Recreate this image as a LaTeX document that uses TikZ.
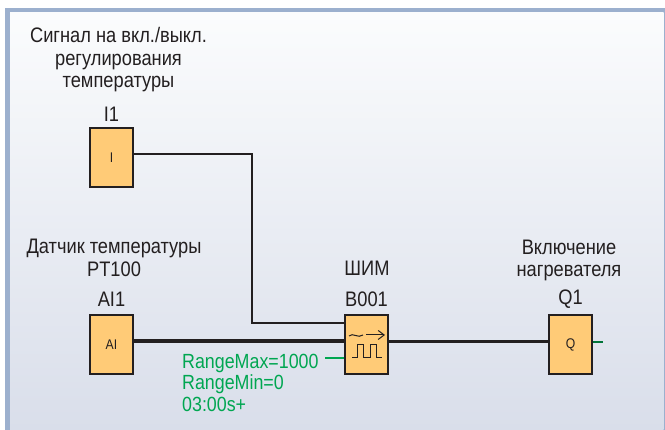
\documentclass[tikz,border=0pt]{standalone}
\usepackage{fontspec}
\setmainfont[FakeStretch=0.87]{Liberation Sans}
\usetikzlibrary{positioning, arrows.meta, calc}
\definecolor{panelline}{HTML}{9CB0CE}
\definecolor{paneltop}{HTML}{FBFCFD}
\definecolor{panelbot}{HTML}{D9DEEA}
\definecolor{blockfill}{HTML}{FFCB77}
\definecolor{inkline}{HTML}{231F20}
\definecolor{paramgreen}{HTML}{00A651}

\begin{document}
\begin{tikzpicture}[
    x=1pt, y=-1pt,
    font=\fontsize{21}{22.5}\selectfont,
    % logic blocks
    logicblock/.style={
        draw=inkline, fill=blockfill, line width=2pt,
        minimum width=43.5pt, minimum height=59.5pt, inner sep=0pt,
        font=\fontsize{14}{16}\selectfont, text=inkline
    },
    caption/.style={align=center, text=inkline, inner sep=0pt},
    signal/.style={draw=inkline, line width=2.2pt},
    paramtext/.style={align=left, text=paramgreen, inner sep=0pt},
    symbolline/.style={draw=inkline, line width=1pt}
]
    \useasboundingbox (0,0) rectangle (665,430);

    % --- panel ---
    \fill [white] (0,0) rectangle (665,430);
    \fill [panelline] (5,8) rectangle (665,430);
    \shade [top color=paneltop, bottom color=panelbot] (10,13) rectangle (663.5,430);

    % --- blocks ---
    \node [logicblock] (I1) at (111.5,157.75) {I};
    \node [logicblock] (AI1) at (111.5,344.5) {AI};
    \node [logicblock] (B001) at (366.5,344.5) {};
    \node [logicblock] (Q1) at (570.5,344.5) {Q};

    % --- captions ---
    \node [caption] (I1name) at (111.5,114) {I1};
    \node [caption] (AI1name) at (111.5,299) {AI1};
    \node [caption] (B001name) at (366.5,299) {B001};
    \node [caption] (Q1name) at (570.5,299) {Q1};
    \node [caption] (onoff) at (118.5,60) {Сигнал на вкл./выкл.\\регулирования\\температуры};
    \node [caption] (sensor) at (114,258) {Датчик температуры\\PT100};
    \node [caption] (pwm) at (367,268) {ШИМ};
    \node [caption] (heater) at (569,260.5) {Включение\\нагревателя};

    % --- connectors ---
    \coordinate (bend1) at (252,154);
    \coordinate (bend2) at (252,323);
    \draw [signal] (I1.east |- bend1) -- (bend1) -- (bend2) -- (B001.west |- bend2);
    \draw [signal, line width=4.5pt] (AI1.east |- 0,341) -- (B001.west |- 0,341);
    \draw [signal] (B001.east |- 0,341.5) -- (Q1.west |- 0,341.5);

    % --- parameters ---
    \coordinate (paramend) at (325,358);
    \draw [paramgreen, line width=1.8pt] (paramend) -- (B001.west |- paramend);
    \coordinate (Q1stub) at (603,342);
    \draw [paramgreen!70!black, line width=1.8pt] (Q1.east |- Q1stub) -- (Q1stub);
    \node [paramtext, anchor=west, font=\fontsize{20.5}{21.5}\selectfont] (params) at (182,382.5) {RangeMax=1000\\RangeMin=0\\03:00s+};

    % --- PWM symbol ---
    \draw [symbolline] (349,336) .. controls (353,332) and (358,339) .. (363,335);
    \draw [symbolline, -{Straight Barb[length=6pt,width=9pt]}] (366,335) -- (385,335);
    \draw [symbolline] (352,358) -- (357,358) -- (357,345) -- (363,345) -- (363,358) -- (370,358) -- (370,345) -- (376,345) -- (376,358) -- (382,358);
\end{tikzpicture}
\end{document}
